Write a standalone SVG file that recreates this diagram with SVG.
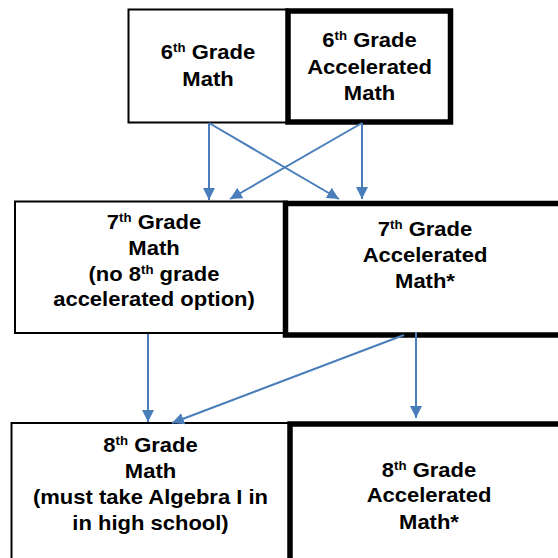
<svg xmlns="http://www.w3.org/2000/svg" width="558" height="558" viewBox="0 0 558 558">
<style>
.thin{fill:#fff;stroke:#000;stroke-width:2}
.thick{fill:#fff;stroke:#000;stroke-width:5.5}
.t{font-family:"Liberation Sans",Arial,sans-serif;font-weight:bold;font-size:20px;fill:#000;text-anchor:middle}
.sup{font-size:12px}
.c{stroke:#4a7ebb;stroke-width:2;fill:none;marker-end:url(#ah)}
</style>
<defs>
<marker id="ah" markerUnits="userSpaceOnUse" markerWidth="13" markerHeight="13" refX="12" refY="6" orient="auto">
<path d="M0,0 L12,6 L0,12 z" fill="#4a7ebb"/>
</marker>
</defs>
<rect width="558" height="558" fill="#fff"/>
<g id="g6math">
<rect class="thin" x="128.5" y="9.5" width="159" height="113"/>
<g transform="translate(208,0) scale(1.1,1)">
<text class="t" x="0" y="59.5">6<tspan class="sup" dy="-7">th</tspan><tspan dy="7"> Grade</tspan></text>
<text class="t" x="0" y="86">Math</text>
</g>
</g>
<g id="g6acc">
<rect class="thick" x="288" y="11" width="162.5" height="111"/>
<g transform="translate(369.5,0) scale(1.1,1)">
<text class="t" x="0" y="47.5">6<tspan class="sup" dy="-7">th</tspan><tspan dy="7"> Grade</tspan></text>
<text class="t" x="0" y="74">Accelerated</text>
<text class="t" x="0" y="100">Math</text>
</g>
</g>
<g id="g7math">
<rect class="thin" x="15" y="201.5" width="272" height="131.5"/>
<g transform="translate(154,0) scale(1.1,1)">
<text class="t" x="0" y="229">7<tspan class="sup" dy="-7">th</tspan><tspan dy="7"> Grade</tspan></text>
<text class="t" x="0" y="255">Math</text>
<text class="t" x="0" y="281.5">(no 8<tspan class="sup" dy="-7">th</tspan><tspan dy="7"> grade</tspan></text>
<text class="t" x="0" y="306.5">accelerated option)</text>
</g>
</g>
<g id="g7acc">
<rect class="thick" x="285.5" y="203.5" width="290" height="131.5"/>
<g transform="translate(425,0) scale(1.1,1)">
<text class="t" x="0" y="236.5">7<tspan class="sup" dy="-7">th</tspan><tspan dy="7"> Grade</tspan></text>
<text class="t" x="0" y="262.5">Accelerated</text>
<text class="t" x="0" y="288.5">Math*</text>
</g>
</g>
<g id="g8math">
<rect class="thin" x="11.5" y="423" width="280" height="150"/>
<g transform="translate(150.5,0) scale(1.1,1)">
<text class="t" x="0" y="452.3">8<tspan class="sup" dy="-7">th</tspan><tspan dy="7"> Grade</tspan></text>
<text class="t" x="0" y="478">Math</text>
<text class="t" x="0" y="504.3">(must take Algebra I in</text>
<text class="t" x="0" y="530">in high school)</text>
</g>
</g>
<g id="g8acc">
<rect class="thick" x="290" y="424" width="290" height="150"/>
<g transform="translate(429,0) scale(1.1,1)">
<text class="t" x="0" y="476.7">8<tspan class="sup" dy="-7">th</tspan><tspan dy="7"> Grade</tspan></text>
<text class="t" x="0" y="502.5">Accelerated</text>
<text class="t" x="0" y="529">Math*</text>
</g>
</g>
<g id="connectors">
<line class="c" x1="209" y1="123" x2="209" y2="200"/>
<line class="c" x1="209" y1="123" x2="339" y2="199"/>
<line class="c" x1="362" y1="123" x2="230" y2="199"/>
<line class="c" x1="362" y1="123" x2="362" y2="199"/>
<line class="c" x1="148" y1="334" x2="148" y2="422"/>
<line class="c" x1="404" y1="335" x2="172" y2="423"/>
<line class="c" x1="416" y1="332" x2="416" y2="418"/>
</g>
</svg>
